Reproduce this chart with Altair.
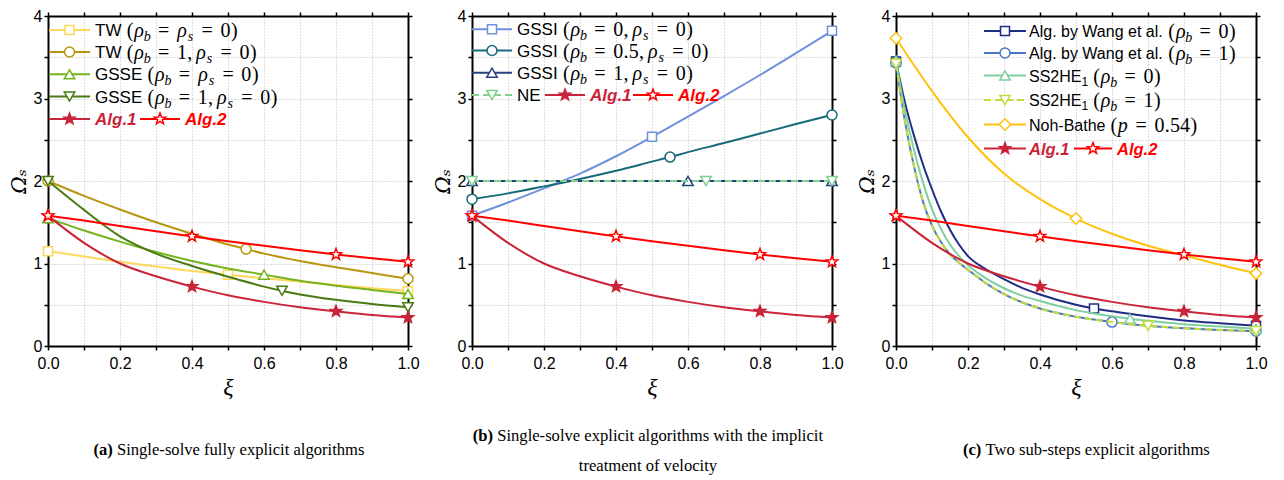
import math
import altair as alt
import pandas as pd

# ---------------- data ----------------
XI_GRID = [0.0, 0.1, 0.2, 0.3, 0.4, 0.5, 0.6, 0.7, 0.8, 0.9, 1.0]

# shared proposed algorithms
ALG1_X = XI_GRID
ALG1_Y = [1.58, 1.25, 1.00, 0.845, 0.72, 0.615, 0.535, 0.47, 0.42, 0.375, 0.345]
ALG2_X = XI_GRID
ALG2_Y = [1.58, 1.52, 1.455, 1.39, 1.33, 1.27, 1.215, 1.16, 1.11, 1.065, 1.02]
ALG_MARK = [0.0, 0.4, 0.8, 1.0]

# panel (a)
TW0_X = XI_GRID
TW0_Y = [1.15, 1.085, 1.02, 0.965, 0.91, 0.865, 0.82, 0.78, 0.74, 0.70, 0.665]
TW1_X = [0.0, 0.1, 0.2, 0.3, 0.4, 0.5, 0.55, 0.6, 0.7, 0.8, 0.9, 1.0]
TW1_Y = [2.0, 1.82, 1.655, 1.50, 1.36, 1.23, 1.175, 1.12, 1.03, 0.955, 0.885, 0.815]
GSSE0_X = XI_GRID
GSSE0_Y = [1.55, 1.40, 1.265, 1.14, 1.03, 0.94, 0.865, 0.79, 0.73, 0.68, 0.63]
GSSE1_X = [0.0, 0.1, 0.2, 0.3, 0.4, 0.5, 0.6, 0.65, 0.7, 0.8, 0.9, 1.0]
GSSE1_Y = [2.0, 1.65, 1.33, 1.12, 0.97, 0.84, 0.72, 0.67, 0.625, 0.56, 0.51, 0.47]

# panel (b)
GSSI0_X = XI_GRID
GSSI0_Y = [1.58, 1.74, 1.91, 2.09, 2.30, 2.535, 2.78, 3.03, 3.285, 3.55, 3.82]
GSSI05_X = [0.0, 0.1, 0.2, 0.3, 0.4, 0.5, 0.55, 0.6, 0.7, 0.8, 0.9, 1.0]
GSSI05_Y = [1.78, 1.85, 1.935, 2.025, 2.125, 2.235, 2.29, 2.35, 2.46, 2.575, 2.69, 2.80]
GSSI1_X = [0.0, 0.6, 1.0]
GSSI1_Y = [2.0, 2.0, 2.0]
NE_X = [0.0, 0.65, 1.0]
NE_Y = [2.0, 2.0, 2.0]

# panel (c)
FINE_X = [0.0, 0.025, 0.05, 0.075, 0.1, 0.125, 0.15, 0.175, 0.2, 0.25, 0.3,
          0.35, 0.4, 0.5, 0.55, 0.6, 0.65, 0.7, 0.8, 0.9, 1.0]
WANG0_Y = [3.45, 2.95, 2.55, 2.2, 1.9, 1.63, 1.41, 1.23, 1.09, 0.93, 0.81,
           0.705, 0.625, 0.50, 0.455, 0.42, 0.39, 0.36, 0.31, 0.275, 0.245]
WANG1_Y = [3.43, 2.72, 2.18, 1.75, 1.46, 1.26, 1.11, 1.01, 0.925, 0.76, 0.63,
           0.53, 0.455, 0.355, 0.32, 0.29, 0.265, 0.245, 0.215, 0.195, 0.18]
SS0_Y = [3.46, 2.85, 2.38, 1.98, 1.66, 1.42, 1.23, 1.09, 0.98, 0.82, 0.70,
         0.61, 0.545, 0.435, 0.395, 0.36, 0.33, 0.305, 0.265, 0.235, 0.21]
SS1_Y = [3.42, 2.72, 2.18, 1.75, 1.46, 1.26, 1.11, 1.01, 0.925, 0.76, 0.63,
         0.53, 0.455, 0.355, 0.32, 0.29, 0.265, 0.245, 0.215, 0.195, 0.18]
NOH_X = XI_GRID
NOH_Y = [3.73, 3.09, 2.53, 2.09, 1.78, 1.545, 1.36, 1.215, 1.10, 0.985, 0.88]

X_TICKS = [0.0, 0.1, 0.2, 0.3, 0.4, 0.5, 0.6, 0.7, 0.8, 0.9, 1.0]
Y_TICKS = [0.0, 0.5, 1.0, 1.5, 2.0, 2.5, 3.0, 3.5, 4.0]

CAP_A = ("(a)", "Single-solve fully explicit algorithms")
CAP_B1 = ("(b)", "Single-solve explicit algorithms with the implicit")
CAP_B2 = "treatment of velocity"
CAP_C = ("(c)", "Two sub-steps explicit algorithms")

# ---------------- styling / layout ----------------
W, H = 360, 330
C_ALG1, C_ALG2 = "#c9243a", "#ff0000"

pts = []
for k in range(10):
    r = 1.0 if k % 2 == 0 else 0.42
    a = -math.pi / 2 + k * math.pi / 5
    pts.append((r * math.cos(a), r * math.sin(a)))
STAR = "M" + " L".join(f"{x:.3f},{y:.3f}" for x, y in pts) + " Z"

SHAPE_SIZE = {"square": 81, "circle": 100, "triangle-up": 110, "triangle-down": 110,
              "diamond": 130, STAR: 140}

ARIAL = {' ': 278, '(': 333, ')': 333, '.': 278, ',': 278, '-': 333, '=': 584,
         'A': 667, 'B': 667, 'E': 667, 'G': 778, 'H': 722, 'I': 278, 'N': 722,
         'S': 667, 'T': 611, 'W': 944, 'a': 556, 'b': 556, 'e': 556, 'g': 556,
         'h': 556, 'l': 222, 'n': 556, 'o': 556, 't': 278, 'y': 500}
for d in "0123456789":
    ARIAL[d] = 556
CM = {'(': 389, ')': 389, '=': 778, ',': 278, '.': 278, 'ρ': 517, 'b': 429, 's': 469, 'p': 503}
for d in "0123456789":
    CM[d] = 500
TIMES = dict(zip("abcdefghijklmnopqrstuvwxyz",
                 [444, 500, 444, 500, 444, 333, 500, 500, 278, 278, 500, 278, 778,
                  500, 500, 500, 500, 333, 389, 278, 500, 500, 722, 500, 500, 444]))
TIMES.update({' ': 250, '-': 333, '(': 333, ')': 333, '.': 250, ',': 250, 'S': 556, 'T': 611})
TIMES_B = {'(': 333, ')': 333, 'a': 500, 'b': 556, 'c': 444, ' ': 250}


def wid(s, table, size):
    return sum(table.get(ch, 550) for ch in s) * size / 1000.0


EM = 20


def new_store():
    return {k: [] for k in ["rule", "dash", "pt", "sans", "bold", "rom", "ital", "cap", "capb"]}


def add_math(store, m, x, y, em=EM):
    i = 0
    while i < len(m):
        c = m[i]
        if c == ' ':
            i += 1
            continue
        if c == '_':
            s = m[i + 1]
            w = CM[s] * 0.7 * em / 1000
            store["ital"].append(dict(x=x + w / 2, y=y + 11, t=s, s=em * 0.7, c="black"))
            x += w
            i += 2
            continue
        if c.isdigit() or c == '.':
            j = i
            while j < len(m) and (m[j].isdigit() or m[j] == '.'):
                j += 1
            for ch in m[i:j]:
                w = CM[ch] * em / 1000
                store["rom"].append(dict(x=x + w / 2, y=y + 7, t=ch, s=em, c="black"))
                x += w
            i = j
            continue
        if c == '=':
            w = (278 + 778 + 278) * em / 1000
            store["rom"].append(dict(x=x + w / 2, y=y + 7, t='=', s=em, c="black"))
            x += w
        elif c == ',':
            w = 278 * em / 1000
            store["rom"].append(dict(x=x + w / 2, y=y + 7, t=',', s=em, c="black"))
            x += w + 167 * em / 1000
        elif c in '()':
            w = CM[c] * em / 1000
            store["rom"].append(dict(x=x + w / 2, y=y + 7, t=c, s=em, c="black"))
            x += w
        else:
            w = CM[c] * em / 1000
            store["ital"].append(dict(x=x + w / 2, y=y + 7, t=c, s=em, c="black"))
            x += w
        i += 1
    return x


def add_entry(store, x0, x1, y, color, shape, dash, fill, text_x, sans=None, math_s="",
              bold=None, bold_color="black", fs=17):
    store["dash" if dash else "rule"].append(dict(x0=x0, x1=x1, y=y, c=color))
    store["pt"].append(dict(x=(x0 + x1) / 2, y=y, c=color, f=fill, shape=shape))
    x = text_x
    if sans:
        if '_' in sans:
            main, sub = sans.split('_')
        else:
            main, sub = sans, ''
        store["sans"].append(dict(x=x, y=y + 6, t=main, s=fs, c="black"))
        x += wid(main, ARIAL, fs)
        if sub:
            store["sans"].append(dict(x=x, y=y + 10, t=sub, s=12, c="black"))
            x += wid(sub, ARIAL, 12)
        x += wid(' ', ARIAL, fs)
    if math_s:
        add_math(store, math_s, x, y)
    if bold:
        store["bold"].append(dict(x=x, y=y + 6, t=bold, s=fs, c=bold_color))


def add_caption(store, bold, rest, cx, y, size=16.6):
    wb = wid(bold + ' ', TIMES_B, size) if bold else 0
    wr = wid(rest, TIMES, size)
    x0 = cx - (wb + wr) / 2
    if bold:
        store["capb"].append(dict(x=x0, y=y, t=bold, s=size, c="black"))
    store["cap"].append(dict(x=x0 + wb, y=y, t=rest, s=size, c="black"))


XS = alt.Scale(domain=[0, 1], nice=False, zero=False)
YS = alt.Scale(domain=[0, 4], nice=False, zero=False)
GRID = dict(gridColor="#b5b5b5", gridDash=[1, 2], gridWidth=0.9)
COMMON = dict(domainColor="black", domainWidth=2, tickColor="black", tickWidth=1.5,
              tickSize=4, labelFlush=False, labelOverlap=False)

X_MAIN = alt.Axis(orient="bottom", values=X_TICKS, grid=True, **GRID, **COMMON,
                  labelExpr="round(datum.value*10)%2==0 ? format(datum.value,'.1f') : ''",
                  labelFont="Liberation Sans", labelFontSize=16, labelColor="black",
                  labelPadding=5, title="ξ", titleFont="Liberation Serif",
                  titleFontStyle="italic", titleFontWeight="normal", titleFontSize=24,
                  titleColor="black", titlePadding=4)
Y_MAIN = alt.Axis(orient="left", values=Y_TICKS, grid=True, **GRID, **COMMON,
                  labelExpr="datum.value%1==0 ? format(datum.value,'d') : ''",
                  labelFont="Liberation Sans", labelFontSize=16, labelColor="black",
                  labelPadding=2, title="Ωₛ", titleFont="DejaVu Serif",
                  titleFontStyle="italic", titleFontWeight="normal", titleFontSize=21,
                  titleColor="black", titlePadding=4)
X_TOP = alt.Axis(orient="top", values=X_TICKS, grid=False, labels=False, title=None, **COMMON)
Y_RIGHT = alt.Axis(orient="right", values=Y_TICKS, grid=False, labels=False, title=None, **COMMON)


def series_layers(spec):
    out = []
    for s in spec:
        df = pd.DataFrame({"x": s["x"], "y": s["y"]})
        props = dict(color=s["c"], strokeWidth=2, interpolate="monotone")
        if s.get("dash"):
            props["strokeDash"] = [7, 4]
        out.append(alt.Chart(df).mark_line(**props).encode(
            x=alt.X("x:Q", scale=XS, axis=None), y=alt.Y("y:Q", scale=YS, axis=None)))
        lookup = dict(zip(s["x"], s["y"]))
        mdf = pd.DataFrame({"x": s["m"], "y": [lookup[v] for v in s["m"]]})
        out.append(alt.Chart(mdf).mark_point(
            shape=s["shape"], size=SHAPE_SIZE[s["shape"]], filled=True,
            fill=s["fill"], stroke=s["c"], strokeWidth=1.5, opacity=1).encode(
            x=alt.X("x:Q", scale=XS, axis=None), y=alt.Y("y:Q", scale=YS, axis=None)))
    return out


def store_layers(st):
    out = []
    px = lambda f: alt.X(f, scale=None, axis=None)
    py = lambda f: alt.Y(f, scale=None, axis=None)
    if st["rule"]:
        out.append(alt.Chart(pd.DataFrame(st["rule"])).mark_rule(strokeWidth=2).encode(
            x=px("x0:Q"), x2="x1:Q", y=py("y:Q"), color=alt.Color("c:N", scale=None)))
    if st["dash"]:
        out.append(alt.Chart(pd.DataFrame(st["dash"])).mark_rule(strokeWidth=2, strokeDash=[7, 4]).encode(
            x=px("x0:Q"), x2="x1:Q", y=py("y:Q"), color=alt.Color("c:N", scale=None)))
    if st["pt"]:
        for shp in list(dict.fromkeys(p["shape"] for p in st["pt"])):
            rows = [p for p in st["pt"] if p["shape"] == shp]
            out.append(alt.Chart(pd.DataFrame(rows)).mark_point(
                shape=shp, size=SHAPE_SIZE[shp], filled=True, strokeWidth=1.5, opacity=1).encode(
                x=px("x:Q"), y=py("y:Q"), stroke=alt.Stroke("c:N", scale=None),
                fill=alt.Fill("f:N", scale=None)))
    fonts = {
        "sans": dict(font="Liberation Sans", align="left"),
        "bold": dict(font="Liberation Sans", align="left", fontWeight="bold", fontStyle="italic"),
        "rom": dict(font="Liberation Serif", align="center"),
        "ital": dict(font="Liberation Serif", align="center", fontStyle="italic"),
        "cap": dict(font="Liberation Serif", align="left"),
        "capb": dict(font="Liberation Serif", align="left", fontWeight="bold"),
    }
    for k, f in fonts.items():
        if st[k]:
            base = "middle" if k in ("cap", "capb") else "alphabetic"
            out.append(alt.Chart(pd.DataFrame(st[k])).mark_text(baseline=base, **f).encode(
                x=px("x:Q"), y=py("y:Q"), text="t:N",
                size=alt.Size("s:Q", scale=None), color=alt.Color("c:N", scale=None)))
    return out


def axis_layers():
    base = pd.DataFrame({"x": [0.0, 1.0], "y": [0.0, 4.0]})
    a = alt.Chart(base).mark_point(opacity=0).encode(
        x=alt.X("x:Q", scale=XS, axis=X_MAIN), y=alt.Y("y:Q", scale=YS, axis=Y_MAIN))
    b = alt.Chart(base).mark_point(opacity=0).encode(
        x=alt.X("x:Q", scale=XS, axis=X_TOP), y=alt.Y("y:Q", scale=YS, axis=Y_RIGHT))
    return [a, b]


def make_panel(spec, store):
    layers = axis_layers() + series_layers(spec) + store_layers(store)
    return alt.layer(*layers).properties(width=W, height=H).resolve_axis(
        x="independent", y="independent")


ALG_SPEC = [
    dict(x=ALG1_X, y=ALG1_Y, m=ALG_MARK, c=C_ALG1, shape=STAR, fill=C_ALG1),
    dict(x=ALG2_X, y=ALG2_Y, m=ALG_MARK, c=C_ALG2, shape=STAR, fill="white"),
]

# ---- panel a
spec_a = [
    dict(x=TW0_X, y=TW0_Y, m=[0.0, 0.5, 1.0], c="#fdd85a", shape="square", fill="white"),
    dict(x=TW1_X, y=TW1_Y, m=[0.0, 0.55, 1.0], c="#b8960f", shape="circle", fill="white"),
    dict(x=GSSE0_X, y=GSSE0_Y, m=[0.0, 0.6, 1.0], c="#76b41e", shape="triangle-up", fill="white"),
    dict(x=GSSE1_X, y=GSSE1_Y, m=[0.0, 0.65, 1.0], c="#4a7a12", shape="triangle-down", fill="white"),
] + ALG_SPEC
st_a = new_store()
rows_a = [14, 36, 58.3, 80.5, 103]
labels_a = [("TW", "(ρ_b = ρ_s = 0)"), ("TW", "(ρ_b = 1, ρ_s = 0)"),
            ("GSSE", "(ρ_b = ρ_s = 0)"), ("GSSE", "(ρ_b = 1, ρ_s = 0)")]
for (sans, m), s, y in zip(labels_a, spec_a, rows_a):
    add_entry(st_a, 1, 42, y, s["c"], s["shape"], s.get("dash"), s["fill"], 47, sans, m)
add_entry(st_a, 1, 42, rows_a[4], C_ALG1, STAR, False, C_ALG1, 47, bold="Alg.1", bold_color=C_ALG1)
add_entry(st_a, 92, 132, rows_a[4], C_ALG2, STAR, False, "white", 137, bold="Alg.2", bold_color=C_ALG2)
add_caption(st_a, CAP_A[0], CAP_A[1], 181, 434)

# ---- panel b
spec_b = [
    dict(x=GSSI0_X, y=GSSI0_Y, m=[0.0, 0.5, 1.0], c="#7090dc", shape="square", fill="white"),
    dict(x=GSSI05_X, y=GSSI05_Y, m=[0.0, 0.55, 1.0], c="#176b7a", shape="circle", fill="white"),
    dict(x=GSSI1_X, y=GSSI1_Y, m=[0.0, 0.6, 1.0], c="#2a3f80", shape="triangle-up", fill="white"),
    dict(x=NE_X, y=NE_Y, m=[0.0, 0.65, 1.0], c="#80d090", shape="triangle-down", fill="white", dash=True),
] + ALG_SPEC
st_b = new_store()
rows_b = [13.3, 34.5, 56.7, 79]
labels_b = [("GSSI", "(ρ_b = 0, ρ_s = 0)"), ("GSSI", "(ρ_b = 0.5, ρ_s = 0)"),
            ("GSSI", "(ρ_b = 1, ρ_s = 0)"), ("NE", "")]
for (sans, m), s, y in zip(labels_b, spec_b, rows_b):
    add_entry(st_b, 0, 40, y, s["c"], s["shape"], s.get("dash"), s["fill"], 45, sans, m)
add_entry(st_b, 73, 113, rows_b[3], C_ALG1, STAR, False, C_ALG1, 118, bold="Alg.1", bold_color=C_ALG1)
add_entry(st_b, 161, 201, rows_b[3], C_ALG2, STAR, False, "white", 206, bold="Alg.2", bold_color=C_ALG2)
add_caption(st_b, CAP_B1[0], CAP_B1[1], 176, 420)
add_caption(st_b, "", CAP_B2, 176, 450)

# ---- panel c
spec_c = [
    dict(x=FINE_X, y=WANG0_Y, m=[0.0, 0.55, 1.0], c="#1f2d85", shape="square", fill="white"),
    dict(x=FINE_X, y=WANG1_Y, m=[0.0, 0.6, 1.0], c="#4a78c8", shape="circle", fill="white"),
    dict(x=FINE_X, y=SS0_Y, m=[0.0, 0.65, 1.0], c="#7fcf9f", shape="triangle-up", fill="white"),
    dict(x=FINE_X, y=SS1_Y, m=[0.0, 0.7, 1.0], c="#c3dc3c", shape="triangle-down", fill="white", dash=True),
    dict(x=NOH_X, y=NOH_Y, m=[0.0, 0.5, 1.0], c="#ffc20e", shape="diamond", fill="white"),
] + ALG_SPEC
st_c = new_store()
rows_c = [15, 37, 59.5, 84, 108.5, 132.5]
labels_c = [("Alg. by Wang et al.", "(ρ_b = 0)"), ("Alg. by Wang et al.", "(ρ_b = 1)"),
            ("SS2HE_1", "(ρ_b = 0)"), ("SS2HE_1", "(ρ_b = 1)"), ("Noh-Bathe", "(p = 0.54)")]
for (sans, m), s, y in zip(labels_c, spec_c, rows_c):
    add_entry(st_c, 88, 130, y, s["c"], s["shape"], s.get("dash"), s["fill"], 133, sans, m, fs=16)
add_entry(st_c, 88, 130, rows_c[5], C_ALG1, STAR, False, C_ALG1, 133, bold="Alg.1",
          bold_color=C_ALG1, fs=16.5)
add_entry(st_c, 178, 216, rows_c[5], C_ALG2, STAR, False, "white", 221, bold="Alg.2",
          bold_color=C_ALG2, fs=16.5)
add_caption(st_c, CAP_C[0], CAP_C[1], 191, 434)

pa = make_panel(spec_a, st_a)
pb = make_panel(spec_b, st_b)
pc = make_panel(spec_c, st_c)

chart = alt.hconcat(pa, pb, pc, spacing=12).properties(
    padding={"left": 0, "top": 0, "right": 0, "bottom": 0}, background="white"
).configure_view(stroke=None)

chart.save("out.html", embed_options={"renderer": "svg", "actions": False})
